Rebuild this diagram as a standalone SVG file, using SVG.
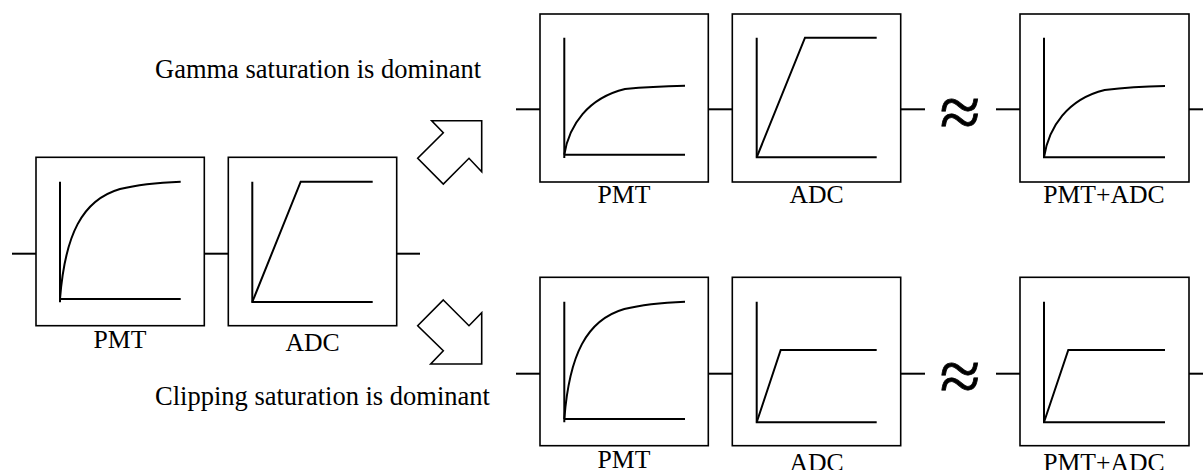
<svg xmlns="http://www.w3.org/2000/svg" width="1203" height="470" viewBox="0 0 1203 470">
<style>
.box{fill:#fff;stroke:#000;stroke-width:1.6}
.ax{fill:none;stroke:#000;stroke-width:2}
.cv{fill:none;stroke:#000;stroke-width:2;stroke-linejoin:miter}
.wire{fill:none;stroke:#000;stroke-width:2}
.barrow{fill:#fff;stroke:#000;stroke-width:1.6;stroke-linejoin:miter}
.lbl{font-family:"Liberation Serif","Times New Roman",serif;font-size:25.7px;fill:#000;text-anchor:middle}
.ttl{font-family:"Liberation Serif","Times New Roman",serif;font-size:26.5px;fill:#000}
.approx{font-family:"Liberation Serif","Times New Roman",serif;font-size:74px;fill:#000;stroke:#000;stroke-width:0.8;text-anchor:middle}
</style>
<rect width="1203" height="470" fill="#fff"/>
<g id="connectors">
<line class="wire" x1="12" y1="253.7" x2="36" y2="253.7"/>
<line class="wire" x1="204.3" y1="253.7" x2="228.3" y2="253.7"/>
<line class="wire" x1="396.7" y1="253.7" x2="420" y2="253.7"/>
<line class="wire" x1="516" y1="109.3" x2="540" y2="109.3"/>
<line class="wire" x1="708.3" y1="109.3" x2="732.3" y2="109.3"/>
<line class="wire" x1="900.7" y1="109.3" x2="925" y2="109.3"/>
<line class="wire" x1="996" y1="109.3" x2="1020" y2="109.3"/>
<line class="wire" x1="1189" y1="109.3" x2="1203" y2="109.3"/>
<line class="wire" x1="516" y1="373.7" x2="540" y2="373.7"/>
<line class="wire" x1="708.3" y1="373.7" x2="732.3" y2="373.7"/>
<line class="wire" x1="900.7" y1="373.7" x2="925" y2="373.7"/>
<line class="wire" x1="996" y1="373.7" x2="1020" y2="373.7"/>
<line class="wire" x1="1189" y1="373.7" x2="1203" y2="373.7"/>
</g>
<g id="pmt-left">
<rect class="box" x="36" y="157.3" width="168.3" height="168.4"/>
<path class="ax" d="M60,181.7 V302.3 M60,299 H180.7"/>
<path class="cv" d="M60,299 C65,235 82,200 120,189 C140,184 160,182.5 180.7,181.7"/>
<text class="lbl" x="120" y="347.7">PMT</text>
</g>
<g id="adc-left">
<rect class="box" x="228.3" y="157.3" width="168.4" height="168.4"/>
<path class="ax" d="M252.3,181.7 V302 H372.7"/>
<path class="cv" d="M252.3,302 L300.7,181.7 H372.7"/>
<text class="lbl" x="312.5" y="351">ADC</text>
</g>
<g id="arrow-up">
<polygon class="barrow" points="481.7,120.7 481.7,171.7 469,158.3 443.3,184 417.7,158.3 443.3,132.7 431.7,120.7"/>
</g>
<g id="arrow-down">
<polygon class="barrow" points="443.3,300 469,325.7 481.7,312.7 481.7,364 430.7,364 443.3,350.7 417.7,325.7"/>
</g>
<text class="ttl" x="155" y="78.3">Gamma saturation is dominant</text>
<text class="ttl" x="155" y="405.3">Clipping saturation is dominant</text>
<g id="pmt-top">
<rect class="box" x="540" y="14" width="168.3" height="168"/>
<path class="ax" d="M564.3,37.7 V158 M564.3,154.7 H685"/>
<path class="cv" d="M564.3,154.7 C569,125 588,98 625,89 C650,86.5 670,86 685,85.7"/>
<text class="lbl" x="624" y="203.3">PMT</text>
</g>
<g id="adc-top">
<rect class="box" x="732.3" y="14" width="168.4" height="168"/>
<path class="ax" d="M756.7,37.7 V157.3 H876.7"/>
<path class="cv" d="M756.7,157.3 L805,37.7 H876.7"/>
<text class="lbl" x="816.5" y="203.3">ADC</text>
</g>
<text id="approx-top" class="approx" x="960" y="137">≈</text>
<g id="pmtadc-top">
<rect class="box" x="1020" y="14" width="169" height="168"/>
<path class="ax" d="M1044,37.7 V157.3 H1165"/>
<path class="cv" d="M1044,157.3 C1048.7,127 1067.7,99 1104.7,90 C1129.7,87 1149.7,86.3 1165,86"/>
<text class="lbl" x="1104" y="203.3">PMT+ADC</text>
</g>
<g id="pmt-bottom">
<rect class="box" x="540" y="277.3" width="168.3" height="168.4"/>
<path class="ax" d="M564.3,301.7 V422.3 M564.3,419 H685"/>
<path class="cv" d="M564.3,419 C569.3,355 586.3,320 624.3,309 C644.3,304 664.3,302.5 685,301.7"/>
<text class="lbl" x="624" y="467.7">PMT</text>
</g>
<g id="adc-bottom">
<rect class="box" x="732.3" y="277.3" width="168.4" height="168.4"/>
<path class="ax" d="M756.7,301.7 V422.3 H876.7"/>
<path class="cv" d="M756.7,422.3 L780.7,350 H876.7"/>
<text class="lbl" x="816.5" y="471">ADC</text>
</g>
<text id="approx-bottom" class="approx" x="960" y="401">≈</text>
<g id="pmtadc-bottom">
<rect class="box" x="1020" y="277.3" width="169" height="168.4"/>
<path class="ax" d="M1044,301.7 V422.3 H1165"/>
<path class="cv" d="M1044,422.3 L1068.3,350 H1165"/>
<text class="lbl" x="1104" y="471">PMT+ADC</text>
</g>
</svg>
